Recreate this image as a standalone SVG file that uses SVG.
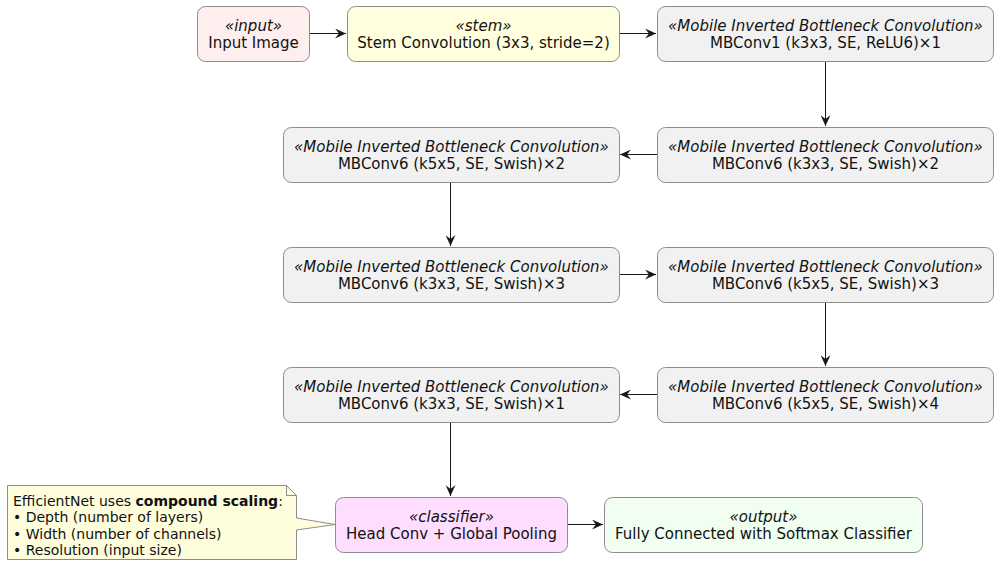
<svg xmlns="http://www.w3.org/2000/svg" width="995" height="561" viewBox="0 0 995 561">
<style>
.box{stroke:#8c8c8c;stroke-width:1}
.mb{fill:#F1F1F1}
text{font-family:"DejaVu Sans",sans-serif;font-size:15px;fill:#111;text-anchor:middle}
.st{font-style:italic}
.note text{font-size:14px;text-anchor:start}
.conn line{stroke:#181818;stroke-width:1}
</style>
<defs>
<marker id="ah" viewBox="0 0 12 10" refX="11" refY="5" markerWidth="12" markerHeight="10" markerUnits="userSpaceOnUse" orient="auto">
<path d="M0,0 L11,5 L0,10 L4,5 Z" fill="#181818"/>
</marker>
</defs>
<rect width="995" height="561" fill="#fff"/>
<g class="conn">
<line x1="309" y1="33.5" x2="346" y2="33.5" marker-end="url(#ah)"/>
<line x1="619" y1="33.5" x2="656" y2="33.5" marker-end="url(#ah)"/>
<line x1="825.5" y1="61" x2="825.5" y2="126" marker-end="url(#ah)"/>
<line x1="657" y1="154.5" x2="620" y2="154.5" marker-end="url(#ah)"/>
<line x1="450.5" y1="182" x2="450.5" y2="246" marker-end="url(#ah)"/>
<line x1="619" y1="274.5" x2="656" y2="274.5" marker-end="url(#ah)"/>
<line x1="825.5" y1="302" x2="825.5" y2="366" marker-end="url(#ah)"/>
<line x1="657" y1="394.5" x2="620" y2="394.5" marker-end="url(#ah)"/>
<line x1="450.5" y1="422" x2="450.5" y2="496" marker-end="url(#ah)"/>
<line x1="567" y1="524.5" x2="603" y2="524.5" marker-end="url(#ah)"/>
</g>
<g id="input">
<rect class="box" x="197.5" y="6.5" width="112" height="55" rx="8" fill="#FFEEEE"/>
<text class="st" x="253.5" y="30.5">«input»</text>
<text x="253.5" y="47.5">Input Image</text>
</g>
<g id="stem">
<rect class="box" x="347.5" y="6.5" width="272" height="55" rx="8" fill="#FFFFDD"/>
<text class="st" x="483.5" y="30.5">«stem»</text>
<text x="483.5" y="47.5">Stem Convolution (3x3, stride=2)</text>
</g>
<g id="mb1">
<rect class="box mb" x="657.5" y="6.5" width="336" height="55" rx="8"/>
<text class="st" x="825.5" y="30.5">«Mobile Inverted Bottleneck Convolution»</text>
<text x="825.5" y="47.5">MBConv1 (k3x3, SE, ReLU6)×1</text>
</g>
<g id="mb6a">
<rect class="box mb" x="657.5" y="127.5" width="336" height="55" rx="8"/>
<text class="st" x="825.5" y="151.5">«Mobile Inverted Bottleneck Convolution»</text>
<text x="825.5" y="168.5">MBConv6 (k3x3, SE, Swish)×2</text>
</g>
<g id="mb6b">
<rect class="box mb" x="283.5" y="127.5" width="336" height="55" rx="8"/>
<text class="st" x="451.5" y="151.5">«Mobile Inverted Bottleneck Convolution»</text>
<text x="451.5" y="168.5">MBConv6 (k5x5, SE, Swish)×2</text>
</g>
<g id="mb6c">
<rect class="box mb" x="283.5" y="247.5" width="336" height="55" rx="8"/>
<text class="st" x="451.5" y="271.5">«Mobile Inverted Bottleneck Convolution»</text>
<text x="451.5" y="288.5">MBConv6 (k3x3, SE, Swish)×3</text>
</g>
<g id="mb6d">
<rect class="box mb" x="657.5" y="247.5" width="336" height="55" rx="8"/>
<text class="st" x="825.5" y="271.5">«Mobile Inverted Bottleneck Convolution»</text>
<text x="825.5" y="288.5">MBConv6 (k5x5, SE, Swish)×3</text>
</g>
<g id="mb6e">
<rect class="box mb" x="657.5" y="367.5" width="336" height="55" rx="8"/>
<text class="st" x="825.5" y="391.5">«Mobile Inverted Bottleneck Convolution»</text>
<text x="825.5" y="408.5">MBConv6 (k5x5, SE, Swish)×4</text>
</g>
<g id="mb6f">
<rect class="box mb" x="283.5" y="367.5" width="336" height="55" rx="8"/>
<text class="st" x="451.5" y="391.5">«Mobile Inverted Bottleneck Convolution»</text>
<text x="451.5" y="408.5">MBConv6 (k3x3, SE, Swish)×1</text>
</g>
<g id="classifier">
<rect class="box" x="335.5" y="497.5" width="232" height="55" rx="8" fill="#FFDDFF"/>
<text class="st" x="451.5" y="521.5">«classifier»</text>
<text x="451.5" y="538.5">Head Conv + Global Pooling</text>
</g>
<g id="output">
<rect class="box" x="604.5" y="497.5" width="318" height="55" rx="8" fill="#F0FFF0"/>
<text class="st" x="763.5" y="521.5">«output»</text>
<text x="763.5" y="538.5">Fully Connected with Softmax Classifier</text>
</g>
<g id="note" class="note">
<path d="M7.5,485.5 L286.5,485.5 L296.5,495.5 L296.5,518 L335,524.5 L296.5,530 L296.5,559.5 L7.5,559.5 Z" fill="#FEFEDD" stroke="#8c8c8c" stroke-width="1"/>
<path d="M286.5,485.5 L286.5,495.5 L296.5,495.5" fill="none" stroke="#8c8c8c" stroke-width="1"/>
<text x="13" y="506">EfficientNet uses <tspan font-weight="bold">compound scaling</tspan>:</text>
<text x="13" y="522">• Depth (number of layers)</text>
<text x="13" y="539">• Width (number of channels)</text>
<text x="13" y="555">• Resolution (input size)</text>
</g>
</svg>
